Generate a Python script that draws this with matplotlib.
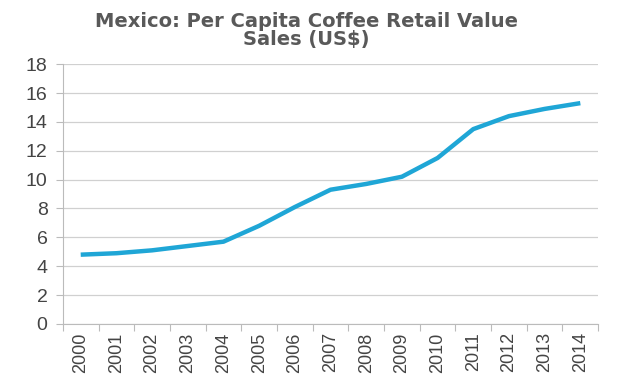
import numpy as np
import matplotlib.pyplot as plt

plt.rcParams['font.family'] = ['Liberation Sans', 'DejaVu Sans']

years = ['2000', '2001', '2002', '2003', '2004', '2005', '2006', '2007',
         '2008', '2009', '2010', '2011', '2012', '2013', '2014']
sales = [4.8, 4.9, 5.1, 5.4, 5.7, 6.8, 8.1, 9.3, 9.7, 10.2, 11.5, 13.5, 14.4, 14.9, 15.3]

fig = plt.figure(figsize=(6.35, 3.82), dpi=100)
ax = fig.add_axes([0.099, 0.152, 0.843, 0.68])

x = np.arange(len(years))
ax.plot(x, sales, color='#1fa6d6', linewidth=3.2, solid_capstyle='butt', zorder=3)

ax.set_xlim(-0.5, len(years) - 0.5)
ax.set_ylim(0, 18)
ax.set_yticks(range(0, 19, 2))
ax.set_xticks(x)
ax.set_xticklabels(years, rotation=90, fontsize=13, color='#444444')
ax.tick_params(axis='x', length=0, pad=6)
ax.set_xticks(np.arange(-0.5, len(years)), minor=True)
ax.tick_params(axis='x', which='minor', length=5, color='#bbbbbb', width=0.8)
ax.tick_params(axis='y', labelsize=14, colors='#444444', length=5, color='#bbbbbb', width=0.8, pad=6)

ax.grid(axis='y', color='#d0d0d0', linewidth=0.9)
ax.set_axisbelow(True)
for s in ['top', 'right']:
    ax.spines[s].set_visible(False)
ax.spines['left'].set_color('#bbbbbb')
ax.spines['bottom'].set_color('#bbbbbb')

# title: two lines, wide bold face
title_kw = dict(ha='center', va='baseline', fontsize=14, fontweight='bold',
                color='#595959', family='DejaVu Sans')
fig.text(0.482, 0.929, 'Mexico: Per Capita Coffee Retail Value', **title_kw)
fig.text(0.482, 0.882, 'Sales (US$)', **title_kw)

fig.savefig('out.png', dpi=100)
